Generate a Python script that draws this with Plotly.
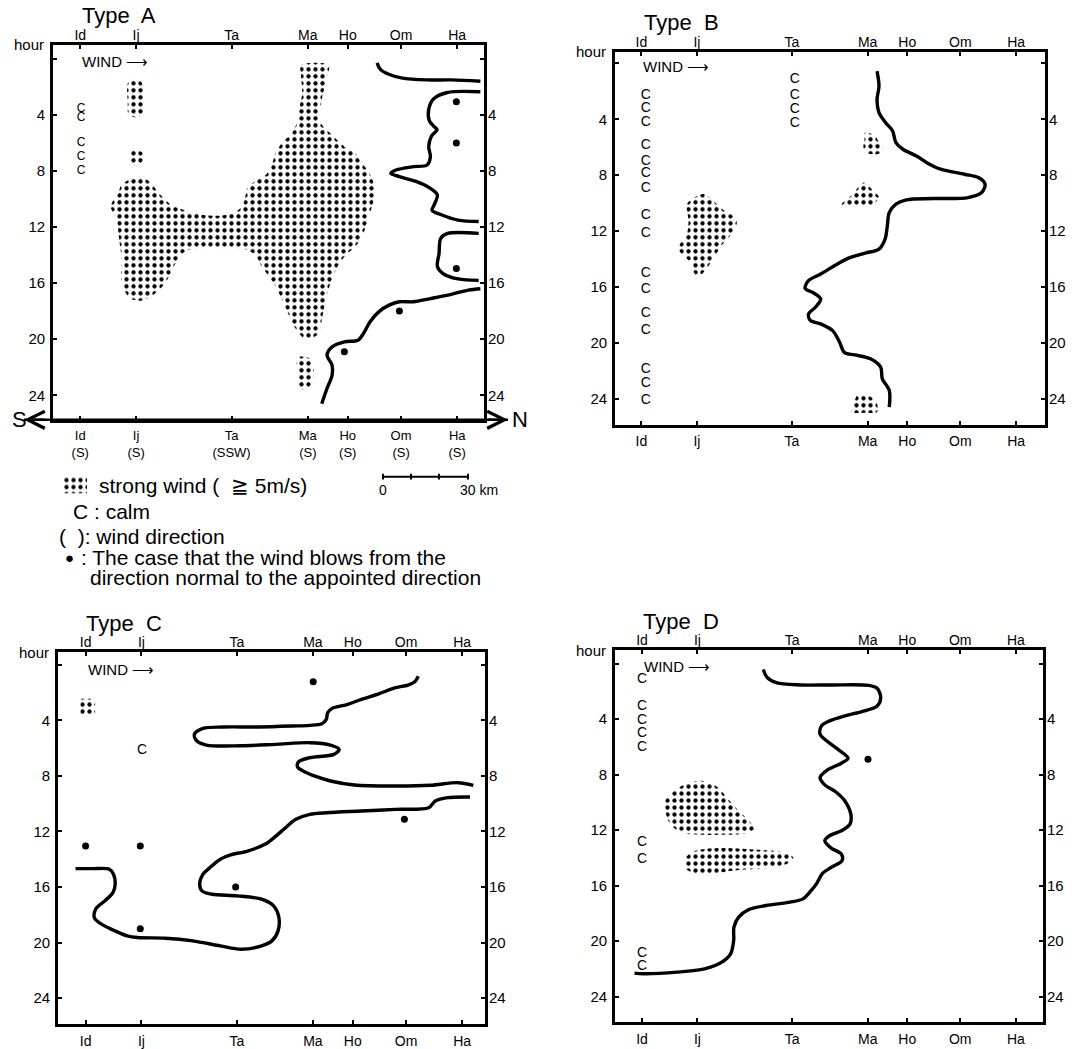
import plotly.graph_objects as go

W, H = 1077, 1049
FONT = "Liberation Sans, Arial, sans-serif"

# ---------------- axis data ----------------
STATIONS = ["Id", "Ij", "Ta", "Ma", "Ho", "Om", "Ha"]
STATION_KM = [0, 20, 54.2, 81.5, 95.8, 114.9, 135]
WIND_DIR_A = ["S", "S", "SSW", "S", "S", "S", "S"]
HOUR_TICKS = [0, 4, 8, 12, 16, 20, 24]
HOUR_LABELS = ["", "4", "8", "12", "16", "20", "24"]

# ---------------- Type A ----------------
A_LINE1_KM = [106.3, 107.5, 110.5, 115, 124, 133, 143.3]
A_LINE1_H = [0.28, 0.75, 1.1, 1.35, 1.5, 1.5, 1.6]
A_LINE2_KM = [143.3, 131.5, 126.6, 124.8, 125.0, 126.8, 127.8, 125.8, 124.8, 125.4, 124.2, 119.3,
              113.1, 111.2, 114.3, 120.5, 125.4, 127.9, 126.7, 126.0, 129.1, 135.3, 142.7]
A_LINE2_H = [2.35, 2.4, 2.85, 3.6, 4.4, 4.85, 5.05, 5.5, 6.26, 6.98, 7.57, 7.69,
             7.93, 8.17, 8.4, 8.76, 9.24, 9.71, 10.43, 10.8, 11.1, 11.5, 11.6]
A_LINE3_KM = [142.7, 131.6, 129.1, 128.5, 127.9, 129.8, 135.3, 142.7]
A_LINE3_H = [12.45, 12.45, 12.8, 13.9, 14.8, 15.3, 15.7, 15.8]
A_LINE4_KM = [143.3, 139.0, 131.6, 125.4, 119.3, 114.3, 110.6, 106.9, 103.8, 101.4, 99.5, 94.6,
              90.2, 88.4, 90.2, 90.2, 88.4, 86.5]
A_LINE4_H = [16.4, 16.5, 16.86, 17.1, 17.33, 17.33, 17.57, 18.05, 18.76, 19.6, 20.07, 20.19,
             20.55, 21.14, 21.86, 22.57, 23.5, 24.6]
A_DOT_KM = [134.7, 134.7, 134.7, 114.3, 94.6]
A_DOT_H = [3.05, 6.0, 14.95, 17.98, 20.9]
A_CALM_KM = [0.3, 0.3, 0.3, 0.3, 0.3]
A_CALM_H = [3.55, 4.2, 6.0, 7.0, 8.0]
A_STRONG1_KM = [79.1, 89.0, 88.1, 86.5, 85.9, 89.6, 94.6, 98.3, 100.1, 103.2, 105.1, 105.1, 103.5,
                101.4, 98.9, 94.6, 91.5, 89.4, 87.8, 86.5, 85.3, 82.8, 79.8, 76.7, 74.2, 72.1,
                69.9, 67.2, 64.7, 62.7, 59.4, 52.6, 45.2, 39.0, 35.9, 33.5, 31.4, 29.1, 26.0,
                21.7, 18.0, 15.8, 14.6, 14.9, 14.3, 13.7, 13.1, 10.9, 11.9, 13.7, 14.6, 17.8,
                21.1, 24.4, 26.9, 29.4, 32.8, 37.8, 44.0, 50.1, 55.1, 58.1, 59.1, 60.0, 62.7,
                66.4, 68.6, 69.9, 72.3, 75.8, 77.5, 78.3, 79.5, 79.1]
A_STRONG1_H = [0.43, 0.43, 1.5, 2.93, 4.48, 5.31, 6.26, 6.69, 7.21, 8.05, 8.88, 10.07, 11.14,
               12.45, 13.29, 14.12, 15.07, 16.14, 17.33, 18.64, 19.6, 19.95, 19.88, 19.12, 18.05,
               17.1, 16.21, 15.43, 14.71, 14.0, 13.6, 13.52, 13.52, 13.6, 14.0, 14.83, 15.67,
               16.31, 16.86, 17.26, 17.1, 16.5, 15.55, 14.36, 13.4, 12.45, 11.5, 10.55, 10.07,
               9.6, 9.0, 8.6, 8.4, 8.69, 9.24, 9.83, 10.43, 10.83, 11.14, 11.19, 10.98, 10.5,
               9.83, 9.17, 8.71, 8.29, 7.57, 6.74, 5.98, 5.31, 4.6, 3.64, 2.45, 1.26]
A_STRONG2_KM = [17.4, 21.7, 23.0, 22.7, 22.7, 20.5, 17.4, 17.0, 16.8]
A_STRONG2_H = [1.62, 1.62, 2.33, 3.17, 3.88, 4.17, 4.0, 2.93, 1.98]
A_STRONG3_KM = [19.9, 22.3, 22.6, 21.5, 19.5, 17.6, 17.4, 18.2]
A_STRONG3_H = [6.45, 6.7, 7.1, 7.5, 7.6, 7.3, 6.8, 6.5]
A_STRONG4_KM = [78.5, 82.2, 83.7, 82.8, 80.4, 78.3, 77.9, 77.5]
A_STRONG4_H = [21.26, 21.38, 22.21, 23.17, 23.64, 23.4, 22.45, 21.62]

# ---------------- Type B ----------------
B_LINE_KM = [84.9, 85.6, 84.9, 85.6, 88.0, 90.5, 91.7, 94.2, 99.1, 102.8, 107.8, 116.4, 121.4,
             123.8, 122.6, 117.7, 105.3, 95.4, 91.7, 89.3, 88.6, 87.8, 85.6, 80.6, 74.4, 69.5,
             64.6, 60.2, 59.0, 62.1, 64.6, 62.7, 60.2, 60.9, 64.6, 68.9, 71.4, 73.2, 76.9, 82.5,
             86.2, 86.8, 89.3, 89.3]
B_LINE_H = [0.55, 1.62, 2.57, 3.52, 4.24, 4.83, 5.67, 6.14, 6.62, 7.1, 7.57, 7.93, 8.17, 8.64,
            9.24, 9.6, 9.67, 9.76, 10.07, 10.67, 11.62, 12.57, 13.29, 13.57, 13.95, 14.48, 15.07,
            15.55, 16.1, 16.43, 16.86, 17.45, 17.93, 18.4, 18.64, 19.12, 19.95, 20.7, 20.86,
            21.14, 21.74, 22.57, 23.4, 24.6]
B_CALM_ID_H = [2.3, 3.2, 4.2, 5.9, 7.0, 7.9, 8.95, 10.9, 12.2, 15.0, 16.2, 17.9, 19.1, 21.9, 22.9, 24.1]
B_CALM_TA_H = [1.14, 2.3, 3.3, 4.3]
B_CALM_ID_KM = 1.6
B_CALM_TA_KM = 55.3
B_STRONG1_KM = [80.6, 84.3, 85.6, 87.4, 84.9, 81.6, 80.0, 80.4]
B_STRONG1_H = [4.95, 5.19, 5.67, 6.19, 6.5, 6.43, 6.02, 5.43]
B_STRONG2_KM = [80.0, 83.5, 85.6, 82.5, 76.0, 71.7, 76.0]
B_STRONG2_H = [8.52, 9.1, 9.6, 10.2, 10.25, 10.19, 9.4]
B_STRONG3_KM = [22.6, 30.0, 34.3, 33.7, 28.8, 25.1, 20.4, 18.9, 17.7, 14.0, 13.3, 16.4, 17.0, 16.4, 20.1]
B_STRONG3_H = [9.36, 10.55, 11.14, 11.86, 13.05, 14.24, 15.3, 14.95, 14.24, 13.52, 13.17, 12.2,
               11.26, 10.07, 9.48]
B_STRONG4_KM = [78.1, 81.9, 84.9, 84.9, 80.6, 75.7, 76.7]
B_STRONG4_H = [23.64, 23.76, 24.36, 24.95, 25.0, 24.95, 24.24]

# ---------------- Type C ----------------
C_LINE1_KM = [119.3, 118.0, 115.6, 111.2, 105.1, 98.9, 94.0, 88.4, 86.8, 86.3, 84.7, 80.4, 74.2,
              61.9, 49.5, 42.1, 39.0, 39.9, 43.3, 55.7, 68.0, 80.4, 87.8, 90.9, 89.0, 80.4, 76.4,
              76.0, 78.5, 82.8, 87.8, 96.4, 111.2, 123.6, 133.5, 139.0]
C_LINE1_H = [0.82, 1.22, 1.46, 1.65, 2.09, 2.49, 2.85, 3.14, 3.45, 3.93, 4.24, 4.36, 4.41, 4.48,
             4.48, 4.58, 5.01, 5.49, 5.78, 5.83, 5.73, 5.61, 5.78, 6.09, 6.45, 6.69, 6.98, 7.36,
             7.7, 8.06, 8.37, 8.66, 8.73, 8.68, 8.49, 8.68]
C_LINE2_KM = [137.8, 129.8, 125.4, 123.0, 111.2, 98.9, 86.5, 80.4, 75.4, 71.7, 68.0, 64.3, 58.1,
              52.0, 48.3, 44.6, 42.1, 40.9, 41.7, 45.2, 54.4, 63.1, 67.4, 69.3, 69.0, 66.8, 63.1,
              55.7, 48.3, 38.4, 28.5, 18.6, 14.9, 10.0, 6.3, 3.2, 3.6, 6.9, 9.8, 10.6, 10.0, 8.5,
              2.6, -3.6]
C_LINE2_H = [9.52, 9.57, 9.81, 10.29, 10.41, 10.53, 10.65, 10.77, 11.13, 11.73, 12.37, 12.93,
             13.41, 13.69, 14.0, 14.6, 15.08, 15.8, 16.28, 16.52, 16.64, 16.88, 17.36, 18.2, 19.16,
             19.88, 20.24, 20.48, 20.24, 19.88, 19.69, 19.64, 19.52, 19.11, 18.75, 18.25, 17.6,
             17.0, 16.4, 15.8, 15.08, 14.72, 14.68, 14.68]
C_DOT_KM = [81.6, 114.3, 0, 19.6, 53.8, 19.6]
C_DOT_H = [1.22, 11.13, 13.05, 13.05, 16.0, 19.0]
C_CALM_KM = [20.2]
C_CALM_H = [6.2]
C_STRONG_KM = [-1.9, 3.4, 3.4, -1.9]
C_STRONG_H = [2.45, 2.45, 3.65, 3.65]

# ---------------- Type D ----------------
D_LINE_KM = [43.8, 45.1, 48.5, 57.2, 68.3, 81.9, 84.9, 86.2, 84.9, 79.4, 73.2, 67.7, 64.8, 64.3,
             67.0, 70.7, 74.4, 72.0, 67.0, 64.3, 66.0, 69.8, 73.2, 75.4, 75.1, 72.0, 67.7, 66.0,
             68.3, 72.0, 72.2, 68.3, 65.2, 63.1, 60.9, 58.1, 53.5, 44.8, 38.6, 34.9, 33.2, 33.1,
             32.0, 28.8, 22.6, 12.7, 0.4, -2.7]
D_LINE_H = [0.41, 0.96, 1.37, 1.53, 1.53, 1.56, 1.77, 2.45, 3.05, 3.45, 3.76, 4.12, 4.48, 5.08,
            5.61, 6.16, 6.81, 7.17, 7.65, 8.2, 8.73, 9.21, 9.88, 10.84, 11.56, 12.04, 12.4, 12.76,
            13.29, 13.72, 14.2, 14.68, 15.11, 15.83, 16.4, 16.95, 17.19, 17.43, 17.72, 18.27,
            18.99, 19.95, 20.91, 21.51, 21.99, 22.23, 22.35, 22.3]
D_DOT_KM = [81.6]
D_DOT_H = [6.88]
D_CALM_H = [1.13, 3.05, 4.08, 5.04, 6.04, 12.88, 14.08, 20.9, 21.8]
D_CALM_KM = 0.0
D_STRONG1_KM = [21.4, 27.5, 30.6, 34.9, 38.6, 40.5, 36.2, 30.0, 21.4, 14.0, 10.2, 8.4, 8.4, 10.9, 15.2]
D_STRONG1_H = [8.44, 8.92, 9.64, 10.6, 11.32, 11.92, 12.28, 12.33, 12.33, 12.16, 11.56, 10.6,
               9.88, 9.28, 8.73]
D_STRONG2_KM = [17.7, 22.6, 30.0, 37.4, 47.3, 52.8, 54.7, 52.2, 47.3, 39.9, 32.5, 25.1, 20.1, 15.8, 15.2]
D_STRONG2_H = [13.6, 13.36, 13.29, 13.36, 13.48, 13.67, 14.0, 14.44, 14.68, 14.8, 14.92, 15.16,
               15.16, 14.8, 14.2]

# ---------------- panel geometry (pixels) ----------------
PANELS = {
    "A": dict(n=1, box=(53, 484, 45, 421), xr=[-9.75, 144.6], yr=[25.75, -1.0], wind_h=0.2,
              calm_size=12),
    "B": dict(n=2, box=(615, 1045, 52, 426), xr=[-9.5, 145.4], yr=[25.86, -0.83], wind_h=0.2,
              calm_size=14),
    "C": dict(n=3, box=(58, 485, 654, 1027), xr=[-9.9, 143.2], yr=[25.87, -0.91], wind_h=0.35,
              calm_size=14),
    "D": dict(n=4, box=(615, 1043, 652, 1025), xr=[-9.75, 144.8], yr=[25.83, -0.98], wind_h=0.2,
              calm_size=14),
}


def px(x):
    return x / W


def py(y):
    return 1 - y / H


def sfx(n):
    return "" if n == 1 else str(n)


fig = go.Figure()

PATTERN = dict(shape=".", fgcolor="black", bgcolor="white", fgopacity=1, size=7, solidity=0.3)


def ax_of(panel):
    n = PANELS[panel]["n"]
    return "x" + sfx(n), "y" + sfx(n)


def add_line(panel, km, h):
    xa, ya = ax_of(panel)
    fig.add_trace(go.Scatter(x=km, y=h, mode="lines", xaxis=xa, yaxis=ya,
                             line=dict(color="black", width=3.4, shape="spline", smoothing=0.9),
                             showlegend=False, hoverinfo="skip"))


def add_strong(panel, km, h, shape="spline"):
    xa, ya = ax_of(panel)
    fig.add_trace(go.Scatter(x=list(km) + [km[0]], y=list(h) + [h[0]], mode="lines",
                             xaxis=xa, yaxis=ya, fill="toself", fillcolor="white",
                             fillpattern=PATTERN,
                             line=dict(color="black", width=0, shape=shape, smoothing=0.8),
                             showlegend=False, hoverinfo="skip"))


def add_dots(panel, km, h):
    xa, ya = ax_of(panel)
    fig.add_trace(go.Scatter(x=km, y=h, mode="markers", xaxis=xa, yaxis=ya,
                             marker=dict(color="black", size=7),
                             showlegend=False, hoverinfo="skip"))


def add_calm(panel, km, h):
    xa, ya = ax_of(panel)
    fig.add_trace(go.Scatter(x=km, y=h, mode="text", text=["C"] * len(h), xaxis=xa, yaxis=ya,
                             textfont=dict(family=FONT, size=PANELS[panel]["calm_size"],
                                           color="black"),
                             textposition="middle center",
                             showlegend=False, hoverinfo="skip"))


# Type A
for km, h in [(A_STRONG1_KM, A_STRONG1_H), (A_STRONG2_KM, A_STRONG2_H),
              (A_STRONG3_KM, A_STRONG3_H), (A_STRONG4_KM, A_STRONG4_H)]:
    add_strong("A", km, h)
for km, h in [(A_LINE1_KM, A_LINE1_H), (A_LINE2_KM, A_LINE2_H),
              (A_LINE3_KM, A_LINE3_H), (A_LINE4_KM, A_LINE4_H)]:
    add_line("A", km, h)
add_dots("A", A_DOT_KM, A_DOT_H)
add_calm("A", A_CALM_KM, A_CALM_H)

# Type B
for km, h in [(B_STRONG1_KM, B_STRONG1_H), (B_STRONG2_KM, B_STRONG2_H),
              (B_STRONG3_KM, B_STRONG3_H), (B_STRONG4_KM, B_STRONG4_H)]:
    add_strong("B", km, h)
add_line("B", B_LINE_KM, B_LINE_H)
add_calm("B", [B_CALM_ID_KM] * len(B_CALM_ID_H), B_CALM_ID_H)
add_calm("B", [B_CALM_TA_KM] * len(B_CALM_TA_H), B_CALM_TA_H)

# Type C
add_strong("C", C_STRONG_KM, C_STRONG_H, shape="linear")
add_line("C", C_LINE1_KM, C_LINE1_H)
add_line("C", C_LINE2_KM, C_LINE2_H)
add_dots("C", C_DOT_KM, C_DOT_H)
add_calm("C", C_CALM_KM, C_CALM_H)

# Type D
add_strong("D", D_STRONG1_KM, D_STRONG1_H)
add_strong("D", D_STRONG2_KM, D_STRONG2_H)
add_line("D", D_LINE_KM, D_LINE_H)
add_dots("D", D_DOT_KM, D_DOT_H)
add_calm("D", [D_CALM_KM] * len(D_CALM_H), D_CALM_H)

# ---------------- axes ----------------
layout = {}
annotations = []
TICKFONT = dict(family=FONT, size=14, color="black")
for name, p in PANELS.items():
    n = p["n"]
    x0, x1, y0, y1 = p["box"]
    xdom = [px(x0), px(x1)]
    ydom = [py(y1), py(y0)]
    if name == "A":
        bottom_text = [f"{s}<br>({d})" for s, d in zip(STATIONS, WIND_DIR_A)]
        bfont = dict(family=FONT, size=13, color="black")
    else:
        bottom_text = STATIONS
        bfont = TICKFONT
    layout["xaxis" + sfx(n)] = dict(
        domain=xdom, range=p["xr"], anchor="y" + sfx(n), side="bottom",
        tickmode="array", tickvals=STATION_KM, ticktext=bottom_text,
        ticks="inside", ticklen=4, tickwidth=1.5, tickcolor="black",
        mirror="allticks", showline=True, linewidth=2.6, linecolor="black",
        showgrid=False, zeroline=False, tickfont=bfont, ticklabelstandoff=2)
    layout["yaxis" + sfx(n)] = dict(
        domain=ydom, range=p["yr"], anchor="x" + sfx(n), side="left",
        tickmode="array", tickvals=HOUR_TICKS, ticktext=HOUR_LABELS,
        ticks="inside", ticklen=4, tickwidth=1.5, tickcolor="black",
        mirror="allticks", showline=True, linewidth=2.6, linecolor="black",
        showgrid=False, zeroline=False, tickfont=dict(family=FONT, size=15, color="black"),
        ticklabelstandoff=2)
    m = n + 4
    layout["xaxis" + str(m)] = dict(
        overlaying="x" + sfx(n), anchor="y" + sfx(n), side="top", range=p["xr"],
        tickmode="array", tickvals=STATION_KM, ticktext=STATIONS, ticks="",
        showline=False, showgrid=False, zeroline=False, tickfont=TICKFONT,
        ticklabelstandoff=1)
    layout["yaxis" + str(m)] = dict(
        overlaying="y" + sfx(n), anchor="x" + sfx(n), side="right", range=p["yr"],
        tickmode="array", tickvals=HOUR_TICKS, ticktext=HOUR_LABELS, ticks="",
        showline=False, showgrid=False, zeroline=False,
        tickfont=dict(family=FONT, size=15, color="black"), ticklabelstandoff=3)
    fig.add_trace(go.Scatter(x=[None], y=[None], xaxis="x" + str(m), yaxis="y" + str(m),
                             showlegend=False, hoverinfo="skip"))

    # title, "hour", WIND arrow
    annotations.append(dict(text=f"Type  {name}", xref="x" + sfx(n) + " domain",
                            yref="y" + sfx(n) + " domain", x=0, y=1, xshift=66, yshift=29,
                            xanchor="center", yanchor="middle", showarrow=False,
                            font=dict(family=FONT, size=22, color="black")))
    annotations.append(dict(text="hour", xref="x" + sfx(n) + " domain",
                            yref="y" + sfx(n) + " domain", x=0, y=1, xshift=-7, yshift=0,
                            xanchor="right", yanchor="middle", showarrow=False,
                            font=dict(family=FONT, size=15, color="black")))
    annotations.append(dict(text="WIND \u27f6", xref="x" + sfx(n), yref="y" + sfx(n),
                            x=0, y=p["wind_h"], xanchor="left", yanchor="middle",
                            showarrow=False, font=dict(family=FONT, size=15, color="black")))

# legend swatch axes
layout["xaxis9"] = dict(domain=[px(63), px(87)], range=[0, 1], anchor="y9", visible=False)
layout["yaxis9"] = dict(domain=[py(495), py(478)], range=[0, 1], anchor="x9", visible=False)
fig.add_trace(go.Scatter(x=[0, 1, 1, 0, 0], y=[0, 0, 1, 1, 0], mode="lines", xaxis="x9",
                         yaxis="y9", fill="toself", fillcolor="white", fillpattern=PATTERN,
                         line=dict(width=0, color="black"), showlegend=False, hoverinfo="skip"))

# S <-> N arrow under Type A
shapes = [dict(type="line", xref="paper", yref="paper", x0=px(24), x1=px(508),
               y0=py(421), y1=py(421), line=dict(color="black", width=2.6))]
for xh, axs in [(24, 22), (508, -22)]:
    annotations.append(dict(x=px(xh), y=py(421), xref="paper", yref="paper", text="",
                            showarrow=True, ax=axs, ay=0, arrowhead=5, arrowsize=1.4,
                            arrowwidth=2.4, arrowcolor="black"))
annotations.append(dict(x=px(10), y=py(421), xref="paper", yref="paper", text="S",
                        showarrow=False, font=dict(family=FONT, size=22, color="black")))
annotations.append(dict(x=px(520), y=py(421), xref="paper", yref="paper", text="N",
                        showarrow=False, font=dict(family=FONT, size=22, color="black")))

# scale bar
shapes.append(dict(type="line", xref="paper", yref="paper", x0=px(383), x1=px(468),
                   y0=py(478), y1=py(478), line=dict(color="black", width=2)))
for xt in [383, 411, 439, 468]:
    shapes.append(dict(type="line", xref="paper", yref="paper", x0=px(xt), x1=px(xt),
                       y0=py(475), y1=py(481), line=dict(color="black", width=2)))
annotations.append(dict(x=px(383), y=py(491), xref="paper", yref="paper", text="0",
                        showarrow=False, font=dict(family=FONT, size=14, color="black")))
annotations.append(dict(x=px(479), y=py(491), xref="paper", yref="paper", text="30 km",
                        showarrow=False, font=dict(family=FONT, size=14, color="black")))

# legend texts
LEG = [
    (97, 487, "strong wind (  \u2267 5m/s)", 21),
    (71, 513, "C : calm", 21),
    (57, 538, "(  ): wind direction", 21),
    (63, 559, "\u25cf", 15),
    (79, 559, ": The case that the wind blows from the", 21),
    (88, 579, "direction normal to the appointed direction", 21),
]
for x, y, t, s in LEG:
    annotations.append(dict(x=px(x), y=py(y), xref="paper", yref="paper", text=t,
                            xanchor="left", yanchor="middle", showarrow=False,
                            font=dict(family=FONT, size=s, color="black")))

fig.update_layout(**layout)
fig.update_layout(width=W, height=H, margin=dict(l=0, r=0, t=0, b=0),
                  paper_bgcolor="white", plot_bgcolor="white",
                  annotations=annotations, shapes=shapes, showlegend=False)

fig.write_html("out.html", config={"displayModeBar": False},
               post_script="document.body.style.margin='0';document.body.style.overflow='hidden';")
